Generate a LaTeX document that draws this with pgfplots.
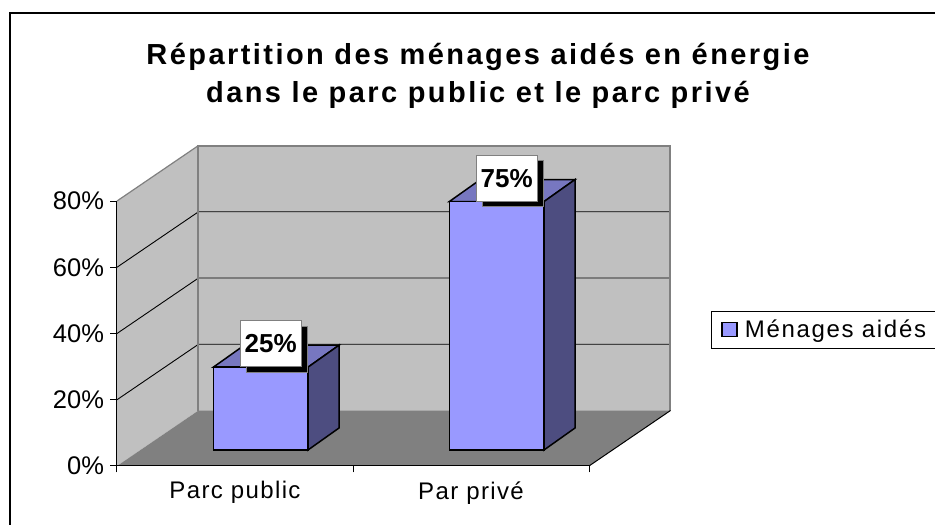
\documentclass[border=0pt]{standalone}
\usepackage{fontspec}
\setmainfont{Liberation Sans}
\newfontfamily\axisfont[LetterSpace=5.7]{Liberation Sans}
\newfontfamily\legendfont[LetterSpace=7]{Liberation Sans}
\newfontfamily\titlefont[LetterSpace=8.4]{Liberation Sans Bold}
\usepackage{pgfplots}
\pgfplotsset{compat=1.18}
\usetikzlibrary{shadows}
\definecolor{wall}{HTML}{C0C0C0}
\definecolor{floorc}{HTML}{808080}
\definecolor{barfront}{HTML}{9999FF}
\definecolor{bartop}{HTML}{7777C0}
\definecolor{barside}{HTML}{4D4D80}
\begin{document}
\begin{tikzpicture}[x=1pt,y=1pt]
\path[use as bounding box] (0,0) rectangle (935,525);
\fill[white] (0,0) rectangle (935,525);
\draw[black,line width=2pt] (9.5,-5) -- (9.5,512) -- (945,512);
% walls, floor and axis lines: front plane of the 3D box
\begin{axis}[
  at={(117pt,59pt)},anchor=south west,
  scale only axis,width=472pt,height=265pt,
  xmin=0,xmax=2,ymin=0,ymax=80,clip=false,
  axis on top=true,
  axis y line*=left,axis x line*=bottom,
  axis line style={black,line width=1pt},
  tick style={black,line width=1pt},
  major tick length=6.5pt,
  tick align=outside,
  ytick={0,20,40,60,80},yticklabels={0\%,20\%,40\%,60\%,80\%},
  xtick={0,1,2},xticklabels={},
  extra x ticks={0.5,1.5},extra x tick labels={Parc public,Par privé},
  extra x tick style={major tick length=0pt,tick style={draw=none}},
  xticklabel style={font=\fontsize{24}{26}\axisfont,yshift=-12pt},
  yticklabel style={font=\fontsize{25.5}{27}\selectfont,xshift=-3pt},
  title={Répartition des ménages aidés en énergie\\dans le parc public et le parc privé},
  title style={at={(0.7648,1.449)},anchor=center,align=center,
    font=\fontsize{29}{38}\titlefont},
]
\addplot[fill=wall,draw=none] coordinates {(0,0)(0.3453,16.75)(0.3453,96.75)(0,80)} --cycle;
\addplot[fill=wall,draw=none] coordinates {(0.3453,16.75)(2.3453,16.75)(2.3453,96.75)(0.3453,96.75)} --cycle;
\addplot[fill=floorc,draw=none] coordinates {(0,0)(2,0)(2.3453,16.75)(0.3453,16.75)} --cycle;
\addplot[black,line width=0.9pt] coordinates {(0,20)(0.3453,36.75)(2.3453,36.75)};
\addplot[black,line width=0.9pt] coordinates {(0,40)(0.3453,56.75)(2.3453,56.75)};
\addplot[black,line width=0.9pt] coordinates {(0,60)(0.3453,76.75)(2.3453,76.75)};
\addplot[floorc,line width=2pt] coordinates {(0.3453,16.75)(0.3453,96.75)(2.3453,96.75)(2.3453,16.75)};
\addplot[floorc,line width=1.2pt] coordinates {(0,80)(0.3453,96.75)};
\addplot[black,line width=1pt] coordinates {(2,0)(2.3453,16.75)};
\end{axis}
% bars: plane in which the bars stand
\begin{axis}[
  at={(142.65pt,75pt)},anchor=south west,
  scale only axis,width=472pt,height=265pt,
  xmin=0,xmax=2,ymin=0,ymax=80,clip=false,
  hide axis,
  legend style={at={(1.2041,0.4547)},anchor=west,draw=black,line width=0.8pt,
    font=\fontsize{24}{26}\legendfont,inner xsep=10pt,inner ysep=7pt,
    legend cell align=left},
  legend image code/.code={\draw[black,line width=1.4pt,fill=barfront] (0pt,-7pt) rectangle (15pt,7pt);\path (20pt,0pt);},
]
\addplot[forget plot,fill=bartop,draw=black,line width=1.5pt] coordinates {(0.2994,25)(0.7006,25)(0.832,31.64)(0.4308,31.64)} --cycle;
\addplot[forget plot,fill=barside,draw=black,line width=1.5pt] coordinates {(0.7006,0)(0.7006,25)(0.832,31.64)(0.832,6.64)} --cycle;
\addplot[forget plot,fill=bartop,draw=black,line width=1.5pt] coordinates {(1.2994,75)(1.7006,75)(1.832,81.64)(1.4308,81.64)} --cycle;
\addplot[forget plot,fill=barside,draw=black,line width=1.5pt] coordinates {(1.7006,0)(1.7006,75)(1.832,81.64)(1.832,6.64)} --cycle;
\addplot[ybar,bar width=94.7pt,fill=barfront,draw=black,line width=1.5pt,
  nodes near coords={\pgfmathprintnumber[assume math mode=true]{\pgfplotspointmeta}\%},
  every node near coord/.append style={anchor=south,xshift=10pt,yshift=0pt,
    fill=white,draw=floorc,line width=0.8pt,text=black,
    minimum width=61pt,minimum height=46pt,inner sep=0pt,
    font=\fontsize{26}{28}\selectfont\bfseries,
    drop shadow={shadow xshift=6.5pt,shadow yshift=-5.5pt,fill=black,opacity=1}},
] coordinates {(0.5,25)(1.5,75)};
\addlegendentry{Ménages aidés\hspace{14pt}}
\end{axis}
\end{tikzpicture}
\end{document}
